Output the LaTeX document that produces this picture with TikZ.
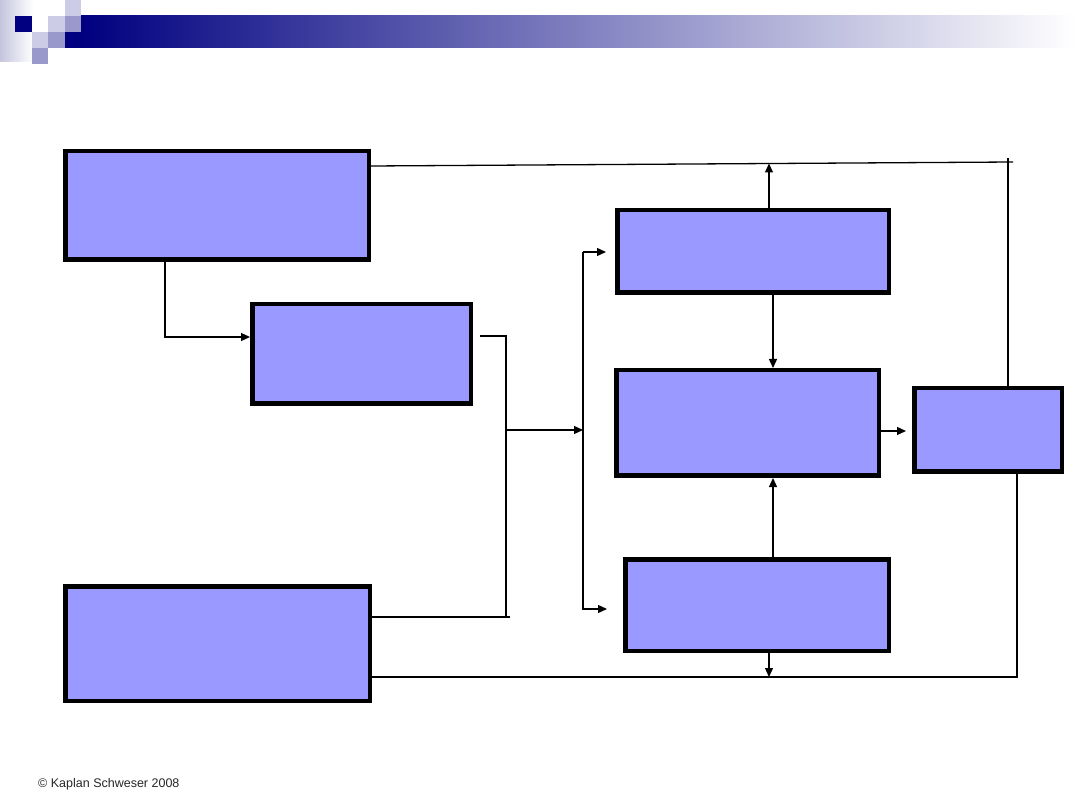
\documentclass[tikz,border=0pt]{standalone}
\usepackage{fontspec}
\setmainfont{Liberation Sans}
\usetikzlibrary{arrows.meta}
\definecolor{boxfill}{HTML}{9999FF}
\definecolor{navy}{HTML}{000080}
\definecolor{midsq}{HTML}{9999CC}
\definecolor{lightsq}{HTML}{CCCCE6}
\definecolor{fadesq}{HTML}{C4C4DE}
\tikzset{
  blockbox/.style={draw=black, line width=4.5pt, fill=boxfill, inner sep=0pt, rectangle},
  conn/.style={draw=black, line width=1.3pt},
  arr/.style={conn, -{Triangle[length=9pt,width=8pt]}},
}
\begin{document}
\begin{tikzpicture}[x=1pt,y=-1pt]
\useasboundingbox (0,0) rectangle (1080,810);
% header decoration
\shade[left color=fadesq, right color=white] (0,0) rectangle (33,62);
\shade[left color=navy, right color=white] (81,16) rectangle (1075,48);
\fill[navy] (65,32) rectangle (81,48);
\fill[navy] (15,16) rectangle (32,32);
\fill[lightsq] (48,16) rectangle (65,32);
\fill[lightsq] (65,0) rectangle (81,16);
\fill[midsq] (65,16) rectangle (81,32);
\fill[lightsq] (32,32) rectangle (48,48);
\fill[midsq] (48,32) rectangle (65,48);
\fill[midsq] (32,48) rectangle (48,64);

% boxes
\node[blockbox, minimum width=303.5pt, minimum height=108.5pt] (A) at (217,205.5) {};
\node[blockbox, minimum width=218.5pt, minimum height=99.5pt] (B) at (361.5,354) {};
\node[blockbox, minimum width=304.5pt, minimum height=114.5pt] (C) at (217.5,643.5) {};
\node[blockbox, minimum width=271.5pt, minimum height=82.5pt] (D) at (753,251.5) {};
\node[blockbox, minimum width=262.5pt, minimum height=105.5pt] (E) at (747.5,423) {};
\node[blockbox, minimum width=263.5pt, minimum height=91.5pt] (F) at (757,605) {};
\node[blockbox, minimum width=147.5pt, minimum height=83.5pt] (G) at (988,430) {};

% helper coordinates
\coordinate (topR) at (1013,162);
\coordinate (gTop) at (1008,158);
\coordinate (dUp) at (769,163.5);
\coordinate (aDown) at (165,337);
\coordinate (bOut) at (480,336);
\coordinate (bCorner) at (506,336);
\coordinate (jBot) at (506,617);
\coordinate (cEnd) at (510,617);
\coordinate (jMid) at (506,430);
\coordinate (sMid) at (583,430);
\coordinate (sTop) at (583,252);
\coordinate (sBot) at (583,609);
\coordinate (dIn) at (606,252);
\coordinate (fIn) at (607,609);
\coordinate (gIn) at (906,431);
\coordinate (gCorner) at (1017,677);
\coordinate (fDown) at (769,677);

% connectors
\draw[conn] (A.east |- 0,166) -- (topR);
\draw[conn] (G.north -| gTop) -- (gTop);
\draw[arr] (D.north -| dUp) -- (dUp);
\draw[arr] (A.south -| aDown) -- (aDown) -- (B.west |- aDown);
\draw[conn] (bOut) -- (bCorner) -- (jBot);
\draw[conn] (C.east |- cEnd) -- (cEnd);
\draw[arr] (jMid) -- (sMid);
\draw[arr] (sTop) -- (sBot) -- (fIn);
\draw[arr] (sTop) -- (dIn);
\draw[arr] (D.south -| 773,0) -- (E.north -| 773,0);
\draw[arr] (F.north -| 773,0) -- (E.south -| 773,0);
\draw[arr] (E.east |- gIn) -- (gIn);
\draw[conn] (G.south -| gCorner) -- (gCorner) -- (C.east |- gCorner);
\draw[arr] (F.south -| fDown) -- (fDown);

% footer
\node[anchor=base west, inner sep=0pt, text=black!85, font=\fontsize{12.5}{14}\selectfont] (copy) at (38,787) {© Kaplan Schweser 2008};
\end{tikzpicture}
\end{document}
